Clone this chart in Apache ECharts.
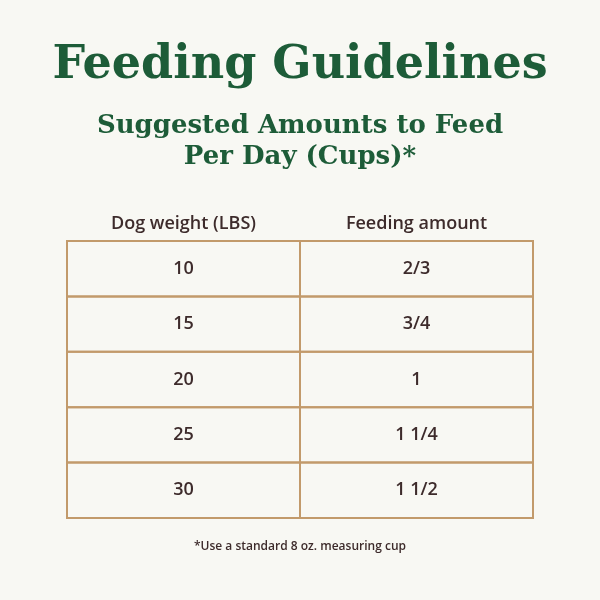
<!DOCTYPE html>
<html>
<head>
<meta charset="utf-8">
<script src="https://cdn.jsdelivr.net/npm/echarts@6/dist/echarts.min.js"></script>
<style>
  html, body { margin: 0; padding: 0; background: #f8f8f3; }
  #main { width: 600px; height: 600px; }
</style>
</head>
<body>
<div id="main"></div>
<script>
// table data
var columns = ['Dog weight (LBS)', 'Feeding amount'];
var weights = ['10', '15', '20', '25', '30'];
var amounts = ['2/3', '3/4', '1', '1 1/4', '1 1/2'];

(function() {
    var cells = [];
    weights.forEach(function(w, i) {
        cells.push([0, i, w]);
        cells.push([1, i, amounts[i]]);
    });

    var subStyle = { fontFamily: 'DejaVu Serif', fontWeight: 'bold', fontSize: 26, color: '#1d5c38' };
    var sans = 'Open Sans';

    var option = {
        backgroundColor: '#f8f8f3',
        title: [{
            text: 'Feeding Guidelines',
            left: 'center',
            top: 38,
            textStyle: { fontFamily: 'DejaVu Serif', fontWeight: 'bold', fontSize: 46, color: '#1d5c38' }
        }, {
            text: 'Suggested Amounts to Feed',
            left: 'center',
            top: 108,
            textStyle: subStyle
        }, {
            text: 'Per Day (Cups)*',
            left: 'center',
            top: 139,
            textStyle: subStyle
        }, {
            text: '*Use a standard 8 oz. measuring cup',
            left: 'center',
            top: 536,
            textStyle: { fontFamily: sans, fontWeight: 600, fontSize: 12, color: '#3d2b2b' }
        }],
        grid: { left: 67, right: 67, top: 241, bottom: 82 },
        xAxis: {
            type: 'category',
            position: 'top',
            data: columns,
            axisLine: { show: false },
            axisTick: { show: false },
            axisLabel: { margin: 8, fontFamily: sans, fontWeight: 600, fontSize: 18, color: '#3d2b2b' }
        },
        yAxis: {
            type: 'category',
            inverse: true,
            data: weights,
            show: false
        },
        series: [{
            type: 'custom',
            data: cells,
            renderItem: function(params, api) {
                var c = api.coord([api.value(0), api.value(1)]);
                var s = api.size([1, 1]);
                return {
                    type: 'group',
                    children: [{
                        type: 'rect',
                        shape: { x: c[0] - s[0] / 2, y: c[1] - s[1] / 2, width: s[0], height: s[1] },
                        style: { fill: 'transparent', stroke: '#c29a6b', lineWidth: 2 }
                    }, {
                        type: 'text',
                        x: c[0],
                        y: c[1],
                        style: {
                            text: cells[params.dataIndex][2],
                            align: 'center',
                            verticalAlign: 'middle',
                            fontFamily: sans,
                            fontWeight: 600,
                            fontSize: 18,
                            fill: '#3d2b2b'
                        }
                    }]
                };
            }
        }]
    };
    var myChart = echarts.init(document.getElementById('main'));
    myChart.setOption(option);
})();
</script>
</body>
</html>
